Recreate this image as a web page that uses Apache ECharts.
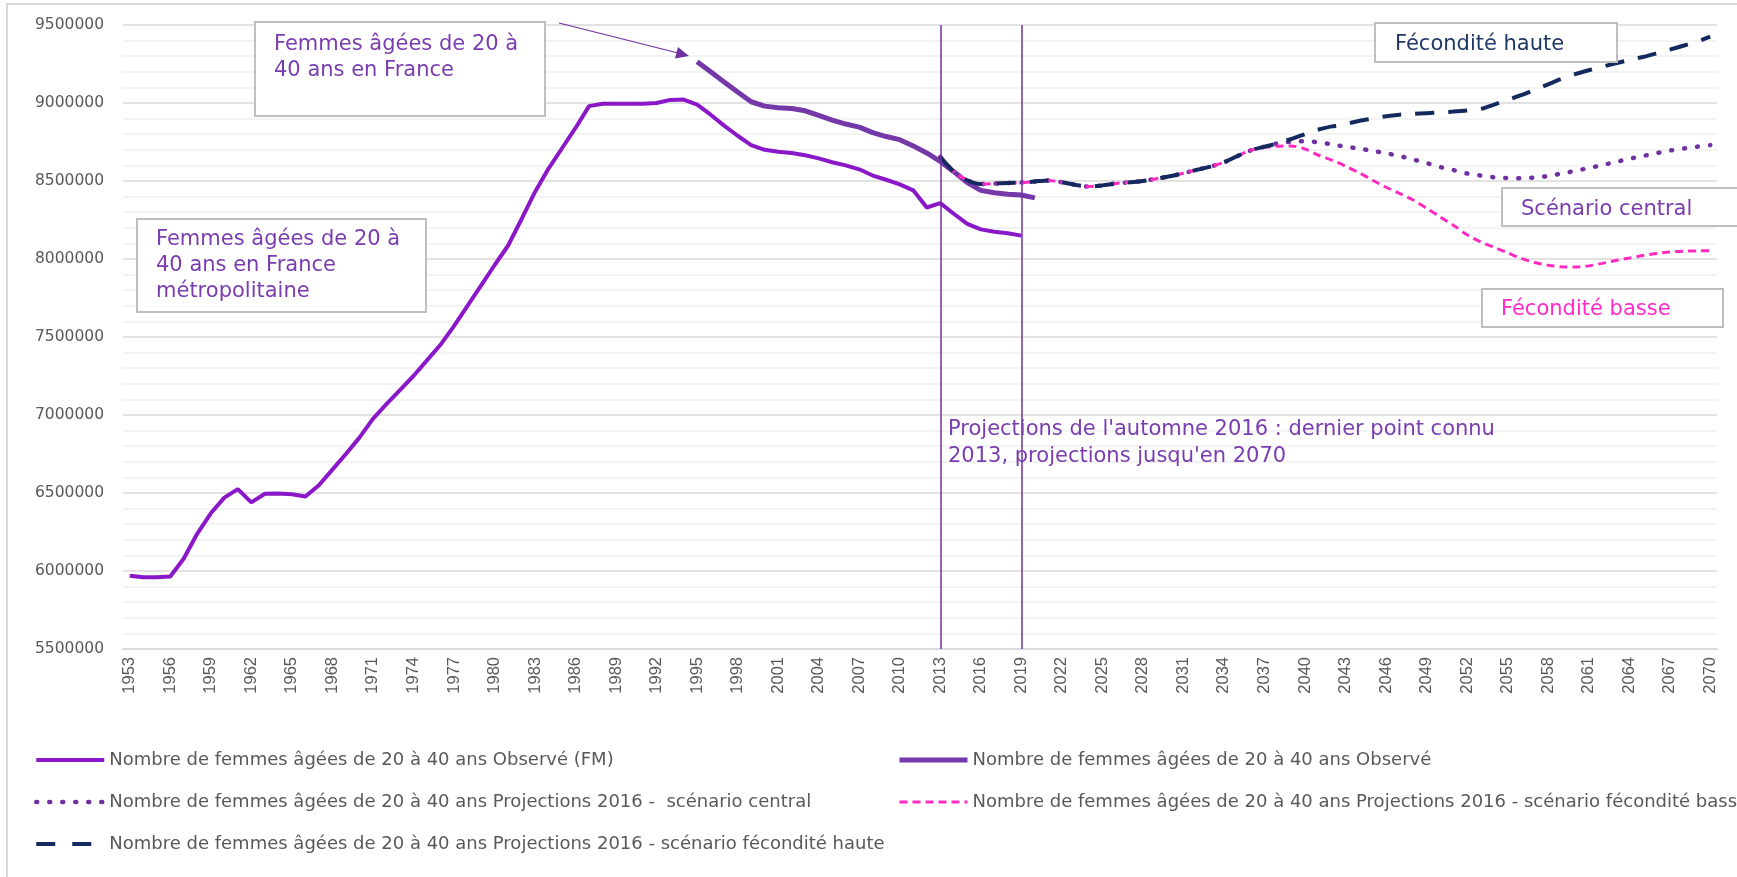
<!DOCTYPE html>
<html>
<head>
<meta charset="utf-8">
<script src="https://cdn.jsdelivr.net/npm/echarts@6/dist/echarts.min.js"></script>
<style>
  html, body { margin: 0; padding: 0; background: #fff; }
  #main { width: 1737px; height: 877px; }
</style>
</head>
<body>
<div id="main"></div>
<script>
// années 1953 - 2070
var years = [];
for (var y = 1953; y <= 2070; y++) {
    years.push(String(y));
}

// Observé (FM) : 1953 - 2019
var observeFM = [
    5970000, 5960000, 5960000, 5965000, 6080000, 6240000, 6370000, 6470000, 6525000, 6440000,
    6495000, 6497000, 6492000, 6478000, 6550000, 6650000, 6750000, 6855000, 6975000, 7070000,
    7160000, 7250000, 7350000, 7450000, 7570000, 7700000, 7830000, 7960000, 8085000, 8255000,
    8430000, 8580000, 8710000, 8840000, 8980000, 8995000, 8995000, 8995000, 8995000, 9000000,
    9020000, 9022000, 8990000, 8925000, 8855000, 8790000, 8730000, 8700000, 8688000, 8680000,
    8665000, 8645000, 8620000, 8600000, 8575000, 8535000, 8508000, 8478000, 8440000, 8330000,
    8358000, 8290000, 8225000, 8190000, 8175000, 8165000, 8150000
];

// Observé (France) : 1995 - 2020
var observe = [
    9265000, 9200000, 9135000, 9070000, 9008000, 8980000, 8970000, 8965000, 8950000, 8920000,
    8890000, 8865000, 8845000, 8810000, 8785000, 8765000, 8725000, 8680000, 8625000, 8560000,
    8490000, 8440000, 8425000, 8415000, 8410000, 8392000
];

// Projections 2016 : 2013 - 2070
var projCentral = [
    8655000, 8560000, 8505000, 8480000, 8483000, 8487000, 8490000, 8497000, 8504000, 8492000,
    8475000, 8464000, 8472000, 8484000, 8492000, 8500000, 8515000, 8530000, 8550000, 8572000,
    8592000, 8620000, 8660000, 8697000, 8720000, 8742000, 8752000, 8755000, 8748000, 8735000,
    8720000, 8708000, 8693000, 8678000, 8660000, 8638000, 8615000, 8590000, 8570000, 8548000,
    8535000, 8524000, 8519000, 8517000, 8522000, 8532000, 8548000, 8565000, 8583000, 8602000,
    8622000, 8642000, 8660000, 8678000, 8695000, 8708000, 8720000, 8730000
];
var projBasse = [
    8655000, 8560000, 8505000, 8480000, 8483000, 8487000, 8490000, 8497000, 8504000, 8492000,
    8475000, 8464000, 8472000, 8484000, 8492000, 8500000, 8515000, 8530000, 8550000, 8572000,
    8592000, 8620000, 8660000, 8697000, 8715000, 8723000, 8724000, 8705000, 8665000, 8633000,
    8595000, 8553000, 8505000, 8460000, 8420000, 8378000, 8325000, 8270000, 8215000, 8155000,
    8110000, 8075000, 8040000, 8004000, 7978000, 7960000, 7950000, 7948000, 7956000, 7972000,
    7990000, 8006000, 8022000, 8035000, 8045000, 8050000, 8052000, 8053000
];
var projHaute = [
    8655000, 8560000, 8505000, 8480000, 8483000, 8487000, 8490000, 8497000, 8504000, 8492000,
    8475000, 8464000, 8472000, 8484000, 8492000, 8500000, 8515000, 8530000, 8550000, 8572000,
    8592000, 8620000, 8660000, 8697000, 8720000, 8742000, 8770000, 8800000, 8830000, 8850000,
    8865000, 8885000, 8900000, 8915000, 8925000, 8930000, 8935000, 8940000, 8945000, 8952000,
    8962000, 8990000, 9020000, 9050000, 9085000, 9120000, 9155000, 9185000, 9210000, 9232000,
    9255000, 9275000, 9295000, 9318000, 9342000, 9367000, 9393000, 9425000
];

var legendNames = [
    'Nombre de femmes âgées de 20 à 40 ans Observé (FM)',
    'Nombre de femmes âgées de 20 à 40 ans Observé',
    'Nombre de femmes âgées de 20 à 40 ans Projections 2016 -  scénario central',
    'Nombre de femmes âgées de 20 à 40 ans Projections 2016 - scénario fécondité basse',
    'Nombre de femmes âgées de 20 à 40 ans Projections 2016 - scénario fécondité haute'
];

// aligne une série sur l'axe des années
function align(values, startYear) {
    var d = [];
    for (var i = 0; i < years.length; i++) {
        var k = Number(years[i]) - startYear;
        d.push(k >= 0 && k < values.length ? values[k] : null);
    }
    return d;
}

var purple = '#7a3db0';
var font = 'DejaVu Sans';

function box(x, y, w, h) {
    return {
        type: 'rect',
        z: 100,
        shape: { x: x, y: y, width: w, height: h },
        style: { fill: '#fff', stroke: '#bfbfbf', lineWidth: 2 }
    };
}

function label(x, y, text, color) {
    return {
        type: 'text',
        z: 101,
        x: x, y: y,
        style: {
            text: text,
            fill: color,
            font: '21px "DejaVu Sans"',
            lineHeight: 26,
            verticalAlign: 'top'
        }
    };
}

var myChart = echarts.init(document.getElementById('main'));

var legendText = { fontFamily: font, fontSize: 18, color: '#595959', lineHeight: 20 };

var option = {
    animation: false,
    grid: { left: 123, right: 20, top: 25, bottom: 228, containLabel: false },
    legend: [{
        orient: 'vertical',
        left: 29, top: 745,
        itemWidth: 68, itemHeight: 20, itemGap: 22,
        itemStyle: { opacity: 0 },
        textStyle: legendText,
        data: [
            { name: legendNames[0], lineStyle: { width: 4 } },
            { name: legendNames[2], lineStyle: { width: 4.5 } },
            { name: legendNames[4], lineStyle: { width: 4, type: [19, 17] } }
        ]
    }, {
        orient: 'vertical',
        left: 892, top: 745,
        itemWidth: 68, itemHeight: 20, itemGap: 22,
        itemStyle: { opacity: 0 },
        textStyle: legendText,
        data: [
            { name: legendNames[1], lineStyle: { width: 5 } },
            { name: legendNames[3], lineStyle: { width: 3 } }
        ]
    }],
    xAxis: {
        type: 'category',
        data: years,
        boundaryGap: true,
        axisLine: { lineStyle: { color: '#d9d9d9', width: 1.5 } },
        axisTick: { show: false },
        axisLabel: {
            rotate: 90,
            interval: 2,
            margin: 8,
            fontFamily: 'Liberation Sans',
            fontSize: 16.5,
            color: '#595959'
        },
        splitLine: { show: false }
    },
    yAxis: {
        type: 'value',
        min: 5500000,
        max: 9500000,
        interval: 500000,
        axisLine: { show: false },
        axisTick: { show: false },
        axisLabel: {
            margin: 19,
            fontFamily: font,
            fontSize: 15.5,
            color: '#595959',
            formatter: function (v) { return String(v); }
        },
        splitLine: { lineStyle: { color: '#d9d9d9', width: 1.5 } },
        minorTick: { show: false, splitNumber: 5 },
        minorSplitLine: { show: true, lineStyle: { color: '#f0f0f0', width: 1.5 } }
    },
    series: [{
        name: legendNames[0],
        type: 'line',
        symbol: 'none',
        data: align(observeFM, 1953),
        lineStyle: { color: '#8a18c8', width: 4 },
        itemStyle: { color: '#8a18c8' },
        markLine: {
            silent: true,
            symbol: 'none',
            label: { show: false },
            lineStyle: { color: '#7030a0', width: 1.5, type: 'solid' },
            data: [{ xAxis: '2013' }, { xAxis: '2019' }]
        }
    }, {
        name: legendNames[1],
        type: 'line',
        symbol: 'none',
        data: align(observe, 1995),
        lineStyle: { color: '#7438a8', width: 5 },
        itemStyle: { color: '#7438a8' }
    }, {
        name: legendNames[2],
        type: 'line',
        symbol: 'none',
        smooth: 0.3,
        data: align(projCentral, 2013),
        lineStyle: { color: '#7030a0', width: 4.5, type: [1, 12], cap: 'round' },
        itemStyle: { color: '#7030a0' }
    }, {
        name: legendNames[3],
        type: 'line',
        symbol: 'none',
        smooth: 0.3,
        data: align(projBasse, 2013),
        lineStyle: { color: '#ff2ac0', width: 3, type: [8, 5] },
        itemStyle: { color: '#ff2ac0' }
    }, {
        name: legendNames[4],
        type: 'line',
        symbol: 'none',
        smooth: 0.3,
        data: align(projHaute, 2013),
        lineStyle: { color: '#142a5e', width: 4, type: [19, 14] },
        itemStyle: { color: '#142a5e' }
    }],
    graphic: [
        {
            type: 'rect',
            shape: { x: 7, y: 4, width: 1800, height: 1000 },
            style: { fill: 'none', stroke: '#d9d9d9', lineWidth: 2 },
            z: 100
        },
        box(255, 22, 290, 94),
        label(274, 32, 'Femmes âgées de 20 à\n40 ans en France', purple),
        box(137, 219, 289, 93),
        label(156, 227, 'Femmes âgées de 20 à\n40 ans en France\nmétropolitaine', purple),
        box(1375, 23, 242, 39),
        label(1395, 32, 'Fécondité haute', '#1f3864'),
        box(1502, 188, 260, 38),
        label(1521, 197, 'Scénario central', purple),
        box(1482, 289, 241, 38),
        label(1501, 297, 'Fécondité basse', '#ff2ac8'),
        {
            type: 'text',
            z: 101,
            x: 948, y: 416,
            style: {
                text: "Projections de l'automne 2016 : dernier point connu\n2013, projections jusqu'en 2070",
                fill: purple,
                font: '21px "DejaVu Sans"',
                lineHeight: 27,
                verticalAlign: 'top'
            }
        },
        {
            type: 'line',
            z: 101,
            shape: { x1: 559, y1: 23, x2: 678, y2: 53 },
            style: { stroke: '#7030a0', lineWidth: 1.2 }
        },
        {
            type: 'polygon',
            z: 101,
            shape: { points: [[689, 56], [675, 58.6], [678, 47]] },
            style: { fill: '#7030a0' }
        }
    ]
};

myChart.setOption(option);
</script>
</body>
</html>
